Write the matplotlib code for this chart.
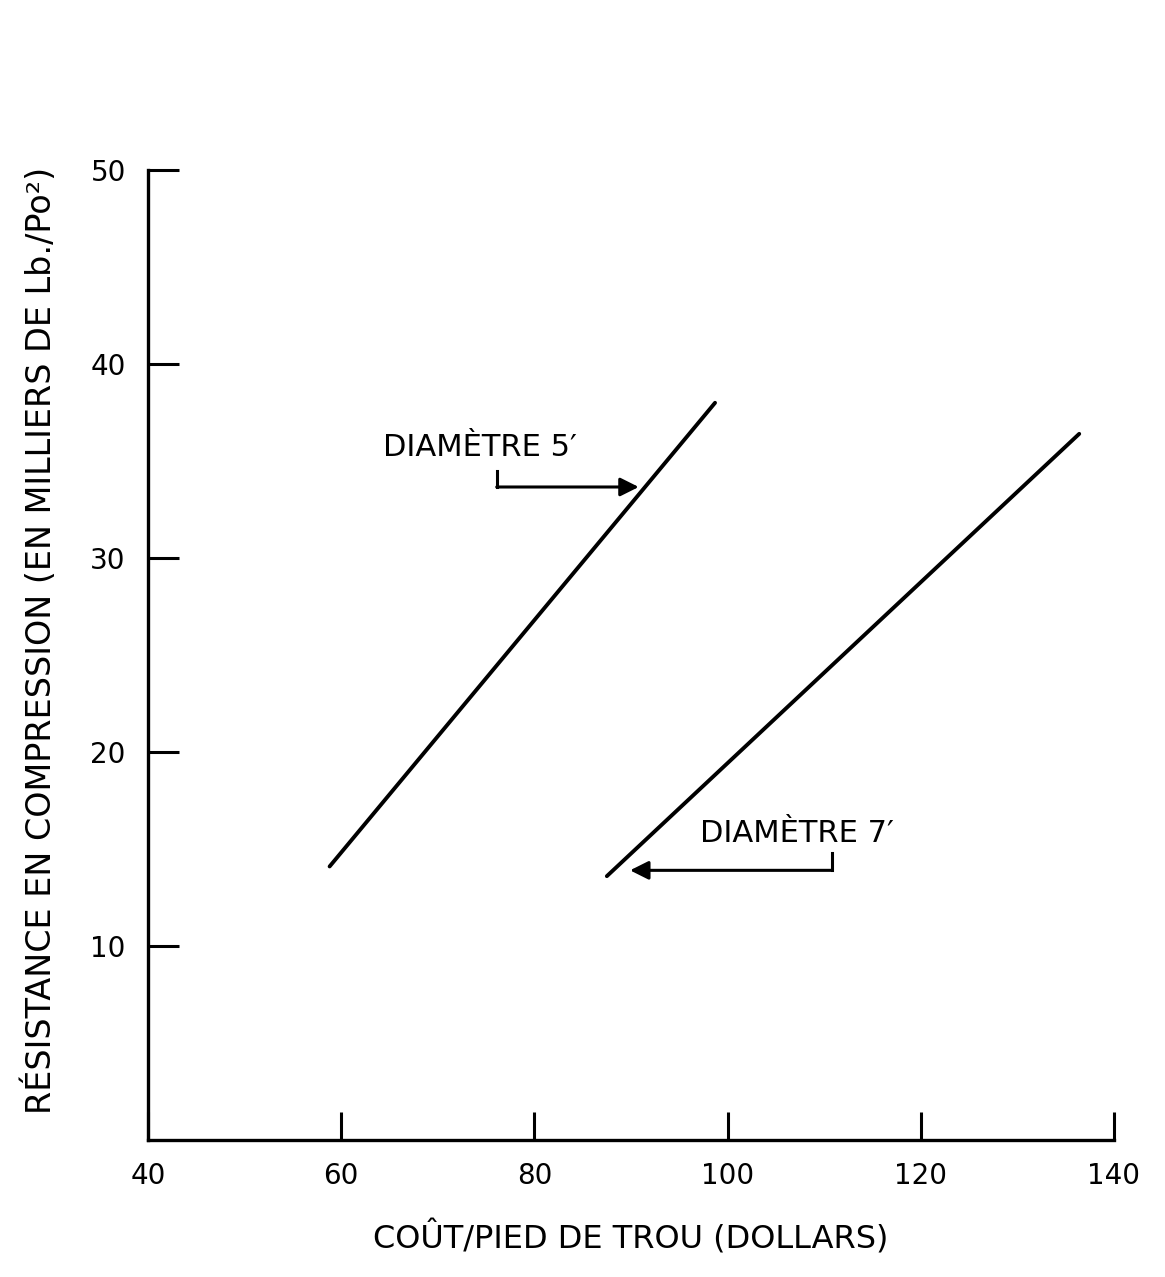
import matplotlib
matplotlib.use("Agg")
import matplotlib.pyplot as plt

# Data
d5_cost = [58.8, 98.7]
d5_strength = [14.1, 38.0]
d7_cost = [87.5, 136.4]
d7_strength = [13.6, 36.4]

x_ticks = [40, 60, 80, 100, 120, 140]
x_ticklabels = ["40", "60", "80", "100", "120", "140"]
y_ticks = [10, 20, 30, 40, 50]
y_ticklabels = ["10", "20", "30", "40", "50"]

label_5 = "DIAMÈTRE 5′"
label_7 = "DIAMÈTRE 7′"
xlabel = "COÛT/PIED DE TROU (DOLLARS)"
ylabel = "RÉSISTANCE EN COMPRESSION (EN MILLIERS DE Lb./Po²)"

plt.rcParams['font.family'] = ['DejaVu Sans']

fig = plt.figure(figsize=(11.65, 12.77), dpi=100)
ax = fig.add_axes([148/1165, 1 - 1140/1277, (1114-148)/1165, (1140-170)/1277])

ax.plot(d5_cost, d5_strength, color='black', lw=2.8, solid_capstyle='round')
ax.plot(d7_cost, d7_strength, color='black', lw=2.8, solid_capstyle='round')

ax.set_xlim(40, 140)
ax.set_ylim(0, 50)
for s in ['top', 'right']:
    ax.spines[s].set_visible(False)
for s in ['left', 'bottom']:
    ax.spines[s].set_linewidth(2.4)

ax.set_xticks(x_ticks)
ax.set_xticklabels(x_ticklabels)
ax.set_yticks(y_ticks)
ax.set_yticklabels(y_ticklabels)
ax.tick_params(axis='x', direction='in', length=20, width=2.2, pad=16, labelsize=20)
ax.tick_params(axis='y', direction='in', length=22, width=2.2, pad=16, labelsize=20)

ax.set_xlabel(xlabel, fontsize=23, labelpad=22)
fig.text(40/1165, 1 - 640/1277, ylabel, rotation=90, ha='center', va='center', fontsize=24)

# Annotations
ax.text(64.3, 35.7, label_5, ha='left', va='center', fontsize=22)
ax.annotate('', xy=(90.8, 33.66), xytext=(76.1, 33.66),
            arrowprops=dict(arrowstyle='-|>', color='black', lw=2.2, mutation_scale=28,
                            shrinkA=0, shrinkB=0))
ax.plot([76.1, 76.1], [34.5, 33.66], color='black', lw=2.2)

ax.text(97.1, 15.8, label_7, ha='left', va='center', fontsize=22)
ax.annotate('', xy=(89.9, 13.9), xytext=(110.8, 13.9),
            arrowprops=dict(arrowstyle='-|>', color='black', lw=2.2, mutation_scale=28,
                            shrinkA=0, shrinkB=0))
ax.plot([110.8, 110.8], [14.8, 13.9], color='black', lw=2.2)

fig.savefig('out.png', dpi=100)
